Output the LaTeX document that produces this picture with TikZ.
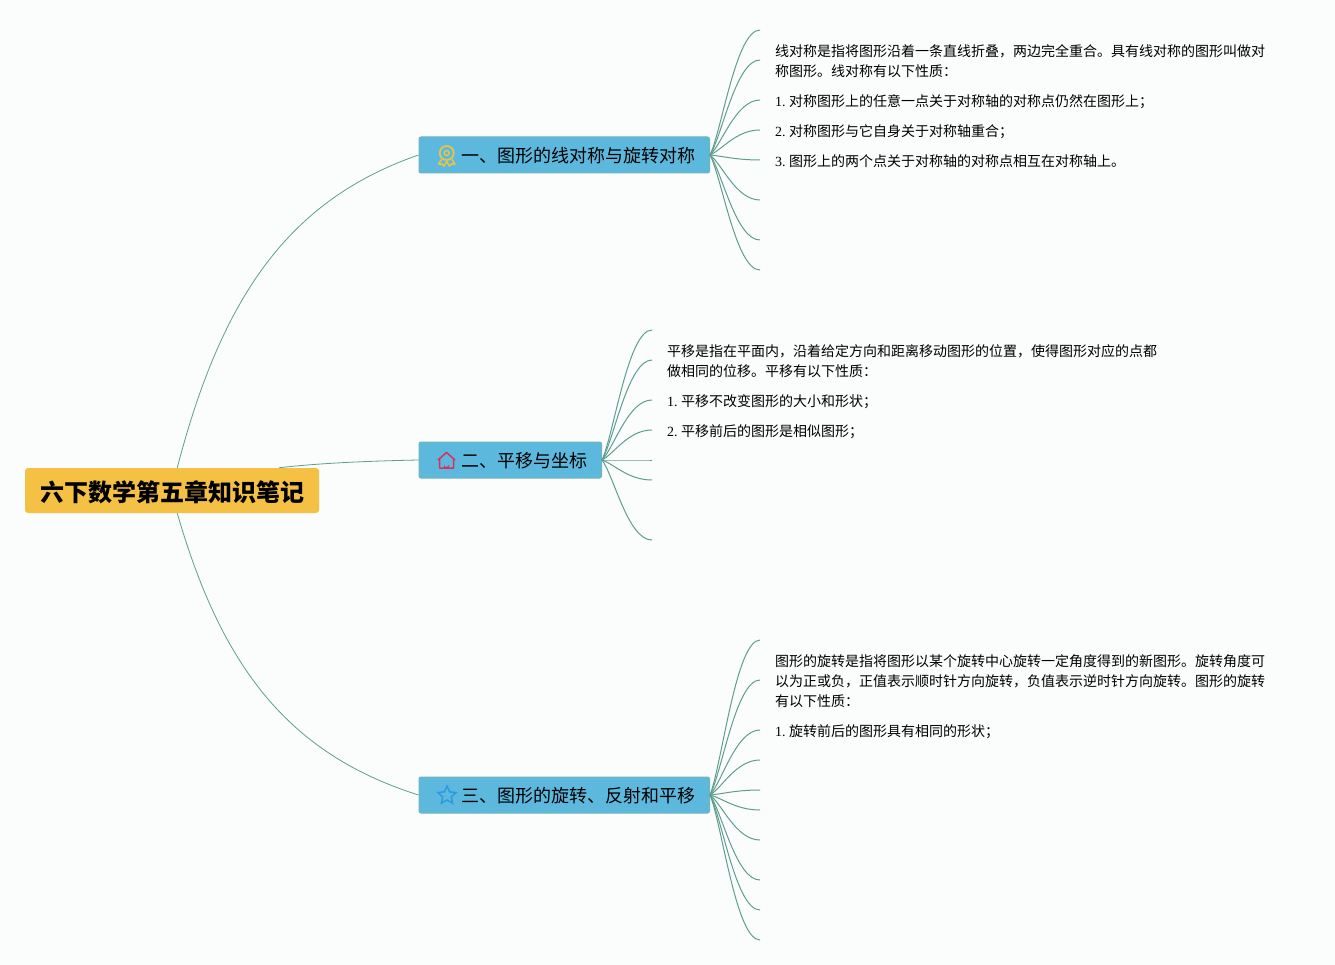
\documentclass[tikz,border=0pt]{standalone}
\usepackage{fontspec}
\setmainfont{Noto Sans CJK SC}
\newfontfamily\numfont{Liberation Serif}
\usetikzlibrary{shapes.geometric}
\definecolor{bgcol}{HTML}{FBFCFC}
\definecolor{rootcol}{HTML}{F5C144}
\definecolor{branchcol}{HTML}{5DB8DE}
\definecolor{edgecol}{HTML}{74B4B8}
\definecolor{linkcol}{HTML}{5F9E8F}
\definecolor{medalcol}{HTML}{E3C548}
\definecolor{housecol}{HTML}{D8305F}
\definecolor{starcol}{HTML}{2A9BE0}
\newcommand{\itemno}[1]{\makebox[14pt][l]{\numfont #1.}}
\tikzset{
  root/.style={fill=rootcol,rounded corners=3pt,minimum width=294pt,minimum height=45pt,inner sep=0pt,text height=24pt,text depth=2.8pt,font=\fontsize{24}{28}\selectfont\bfseries},
  branch/.style={fill=branchcol,draw=edgecol,line width=1pt,rounded corners=2pt,minimum height=36pt,inner xsep=14pt,inner ysep=0pt,anchor=west,text height=18pt,text depth=2.4pt,font=\fontsize{18}{22}\selectfont},
  leaf/.style={anchor=west,inner sep=0pt,align=left,font=\fontsize{14}{20}\selectfont},
  leafline/.style={anchor=base west,inner sep=0pt,font=\fontsize{14}{20}\selectfont},
  link/.style={draw=linkcol,line width=1pt},
  rootlink/.style={draw=linkcol,line width=0.8pt}
}
\begin{document}
\begin{tikzpicture}[x=1pt,y=-1pt]
\fill[bgcol] (0,0) rectangle (1335,965);
\useasboundingbox (0,0) rectangle (1335,965);

\node[root] (root) at (172,490.5) {六下数学第五章知识笔记};
\node[branch] (b1) at (418.5,155) {\hspace*{28.5pt}一、图形的线对称与旋转对称};
\node[branch] (b2) at (418.5,460) {\hspace*{28.5pt}二、平移与坐标};
\node[branch] (b3) at (418.5,795) {\hspace*{28.5pt}三、图形的旋转、反射和平移};

% root links
\draw[rootlink] (root.77) .. controls (222,296) and (289,200) .. (b1.west);
\draw[rootlink] (root.12) .. controls (320,463) and (370,461) .. (b2.west);
\draw[rootlink] (root.-77) .. controls (222,668) and (289,754) .. (b3.west);

% branch links
\foreach \y [count=\i] in {30,60,100,130,160,200,240,270} {
  \coordinate (e1\i) at (760,\y);
  \draw[link] (b1.east) .. controls +(12,{0.2*(\y-155)}) and +(-24,0) .. (e1\i);
}
\foreach \y [count=\i] in {330,360,400,430,460,480,540} {
  \coordinate (e2\i) at (652,\y);
  \draw[link] (b2.east) .. controls +(12,{0.2*(\y-460)}) and +(-24,0) .. (e2\i);
}
\foreach \y [count=\i] in {640,680,730,760,790,810,840,880,910,940} {
  \coordinate (e3\i) at (760,\y);
  \draw[link] (b3.east) .. controls +(12,{0.2*(\y-795)}) and +(-24,0) .. (e3\i);
}

% icons
\node[circle,draw=medalcol,line width=1.8pt,minimum size=14pt,inner sep=0pt] (medal) at (446.7,153) {};
\node[circle,draw=medalcol,line width=1.5pt,minimum size=5pt,inner sep=0pt] (medalc) at (446.7,153) {};
\draw[medalcol,line width=1.6pt,line join=round] (441.5,159.5) -- (438.5,164) -- (442,164) -- (444,166) -- (446.7,161.5) -- (449.4,166) -- (451.4,164) -- (455,164) -- (452,159.5);
\draw[housecol,line width=1.5pt,line join=round] (438,460) -- (446.5,452.5) -- (455,460) (439.5,459) -- (439.5,468) -- (453.5,468) -- (453.5,459);
\fill[housecol] (444,468) -- (444,464.5) arc[start angle=180,end angle=360,radius=2.5pt] -- (449,468) -- cycle;
\node[star,star points=5,star point ratio=2.1,draw=starcol,line width=1.5pt,minimum size=19pt,inner sep=0pt] (starmark) at (447,795.5) {};

% leaf texts
\node[leaf] (t11) at (775,61) {线对称是指将图形沿着一条直线折叠，两边完全重合。具有线对称的图形叫做对\\称图形。线对称有以下性质：};
\node[leafline] (t12) at (775,106.7) {\itemno{1}对称图形上的任意一点关于对称轴的对称点仍然在图形上；};
\node[leafline] (t13) at (775,136.7) {\itemno{2}对称图形与它自身关于对称轴重合；};
\node[leafline] (t14) at (775,166.7) {\itemno{3}图形上的两个点关于对称轴的对称点相互在对称轴上。};

\node[leaf] (t21) at (667,361) {平移是指在平面内，沿着给定方向和距离移动图形的位置，使得图形对应的点都\\做相同的位移。平移有以下性质：};
\node[leafline] (t22) at (667,406) {\itemno{1}平移不改变图形的大小和形状；};
\node[leafline] (t23) at (667,436) {\itemno{2}平移前后的图形是相似图形；};

\node[leaf] (t31) at (775,681) {图形的旋转是指将图形以某个旋转中心旋转一定角度得到的新图形。旋转角度可\\以为正或负，正值表示顺时针方向旋转，负值表示逆时针方向旋转。图形的旋转\\有以下性质：};
\node[leafline] (t32) at (775,736) {\itemno{1}旋转前后的图形具有相同的形状；};
\end{tikzpicture}
\end{document}
